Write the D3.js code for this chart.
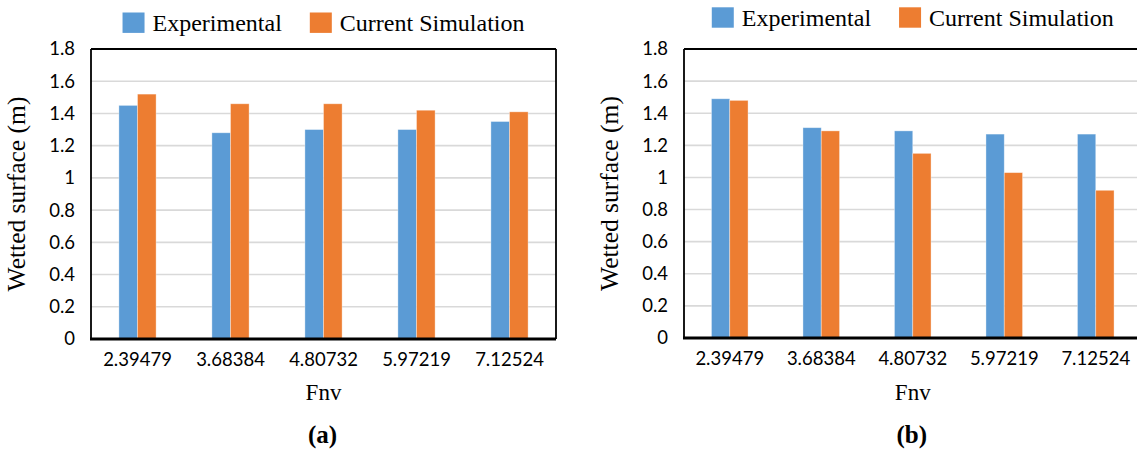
<!DOCTYPE html>
<html>
<head>
<meta charset="utf-8">
<script src="https://cdn.jsdelivr.net/npm/d3@7"></script>
<style>
  html, body { margin: 0; padding: 0; background: #fff; }
  svg { display: block; }
</style>
</head>
<body>
<svg id="chart" width="1137" height="452"></svg>
<script>
// Wetted surface vs. Fnv, two panels
const categories = ["2.39479", "3.68384", "4.80732", "5.97219", "7.12524"];
const seriesNames = ["Experimental", "Current Simulation"];
const experimentalA = [1.45, 1.28, 1.30, 1.30, 1.35];
const simulationA   = [1.52, 1.46, 1.46, 1.42, 1.41];
const experimentalB = [1.49, 1.31, 1.29, 1.27, 1.27];
const simulationB   = [1.48, 1.29, 1.15, 1.03, 0.92];
const yTicks = [0, 0.2, 0.4, 0.6, 0.8, 1, 1.2, 1.4, 1.6, 1.8];
const yTickLabels = ["0", "0.2", "0.4", "0.6", "0.8", "1", "1.2", "1.4", "1.6", "1.8"];
const yAxisTitle = "Wetted surface (m)";
const xAxisTitle = "Fnv";
const panelLabels = ["(a)", "(b)"];
const colors = ["#5B9BD5", "#ED7D31"];

const svg = d3.select("#chart");
const W = 1137;

const panels = [
  { label: panelLabels[0], exp: experimentalA, sim: simulationA,
    left: 91, right: 556, top: 49, bottom: 339, legendY: 12.5, titleX: 25, closed: true },
  { label: panelLabels[1], exp: experimentalB, sim: simulationB,
    left: 684, right: 1141.5, top: 49, bottom: 338, legendY: 7.3, titleX: 618, closed: false }
];

const serif = "'Liberation Serif', 'Times New Roman', serif";
const sans = "Lato, 'Open Sans', sans-serif";

panels.forEach(p => {
  const g = svg.append("g");
  const x = d3.scaleBand().domain(categories).range([p.left, p.right]).paddingInner(0.6).paddingOuter(0.3);
  const xs = d3.scaleBand().domain(seriesNames).range([0, x.bandwidth()]);
  const y = d3.scaleLinear().domain([0, 1.8]).range([p.bottom, p.top]);
  const frameRight = Math.min(p.right, W + 5);

  // gridlines
  g.append("g")
    .selectAll("line")
    .data(yTicks.filter(t => t > 0 && t < 1.8))
    .join("line")
    .attr("x1", p.left).attr("x2", frameRight)
    .attr("y1", d => y(d)).attr("y2", d => y(d))
    .attr("stroke", "#d9d9d9").attr("stroke-width", 1.6);

  // bars
  const rows = categories.map((c, i) => ({ cat: c, vals: [p.exp[i], p.sim[i]] }));
  g.append("g")
    .selectAll("g")
    .data(rows)
    .join("g")
    .attr("transform", d => `translate(${x(d.cat)},0)`)
    .selectAll("rect")
    .data(d => d.vals.map((v, k) => ({ key: seriesNames[k], v, k })))
    .join("rect")
    .attr("x", d => xs(d.key))
    .attr("width", xs.bandwidth())
    .attr("y", d => y(d.v))
    .attr("height", d => y(0) - y(d.v))
    .attr("fill", d => colors[d.k])
    .attr("stroke", "#ffffff").attr("stroke-opacity", 0.45).attr("stroke-width", 0.8);

  // plot frame
  g.append("line").attr("x1", p.left).attr("x2", frameRight).attr("y1", p.top).attr("y2", p.top)
    .attr("stroke", "#000").attr("stroke-width", 2);
  g.append("line").attr("x1", p.left).attr("x2", p.left).attr("y1", p.top).attr("y2", p.bottom)
    .attr("stroke", "#000").attr("stroke-width", 1.8);
  if (p.closed) {
    g.append("line").attr("x1", p.right).attr("x2", p.right).attr("y1", p.top).attr("y2", p.bottom)
      .attr("stroke", "#000").attr("stroke-width", 1.8);
  }

  // y axis labels
  const yAxis = d3.axisLeft(y).tickValues(yTicks)
    .tickFormat((d, i) => yTickLabels[i]).tickSize(0).tickPadding(16);
  const ya = g.append("g").attr("transform", `translate(${p.left},0)`).call(yAxis);
  ya.select(".domain").remove();
  ya.selectAll("text").attr("font-family", sans).attr("font-size", 18.5).attr("fill", "#000");

  // x axis
  const xAxis = d3.axisBottom(x).tickSize(0).tickPadding(14);
  const xa = g.append("g").attr("transform", `translate(0,${p.bottom})`).call(xAxis);
  xa.select(".domain").remove();
  xa.selectAll("text").attr("font-family", sans).attr("font-size", 18.5).attr("fill", "#000");
  g.append("line").attr("x1", p.left - 1).attr("x2", frameRight).attr("y1", p.bottom).attr("y2", p.bottom)
    .attr("stroke", "#000").attr("stroke-width", 3);

  // axis titles
  const cx = (p.left + p.right) / 2;
  g.append("text")
    .attr("transform", `translate(${p.titleX},${(p.top + p.bottom) / 2}) rotate(-90)`)
    .attr("text-anchor", "middle")
    .attr("font-family", serif).attr("font-size", 25.5)
    .text(yAxisTitle);
  g.append("text")
    .attr("x", cx).attr("y", 400)
    .attr("text-anchor", "middle")
    .attr("font-family", serif).attr("font-size", 23)
    .text(xAxisTitle);
  g.append("text")
    .attr("x", cx - 1).attr("y", 443)
    .attr("text-anchor", "middle")
    .attr("font-family", serif).attr("font-size", 25).attr("font-weight", "bold")
    .text(p.label);

  // legend, centred over the plot area
  const lg = g.append("g");
  let cursor = 0;
  seriesNames.forEach((name, k) => {
    lg.append("rect").attr("x", cursor).attr("y", 0).attr("width", 22).attr("height", 20.4)
      .attr("fill", colors[k]);
    cursor += 22 + 8;
    const t = lg.append("text").attr("x", cursor).attr("y", 18.5)
      .attr("font-family", serif).attr("font-size", 24).text(name);
    cursor += t.node().getComputedTextLength() + 28;
  });
  const lw = cursor - 28;
  lg.attr("transform", `translate(${cx - lw / 2},${p.legendY})`);
});
</script>
</body>
</html>
